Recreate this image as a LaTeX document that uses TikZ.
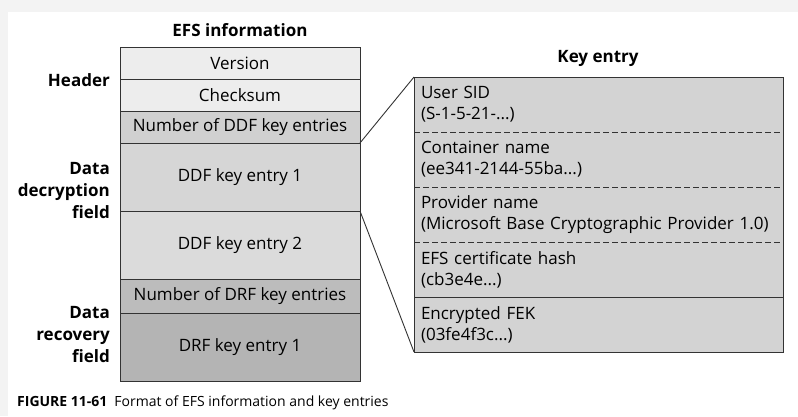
\documentclass[tikz,border=0pt]{standalone}
\usepackage{fontspec}
\setmainfont{Open Sans}
\usetikzlibrary{positioning}
\definecolor{pagegray}{HTML}{F3F3F3}
\definecolor{hdrgray}{HTML}{EDEDED}
\definecolor{numgray}{HTML}{D0D0D0}
\definecolor{ddfgray}{HTML}{D6D6D6}
\definecolor{ddfgraylt}{HTML}{DBDBDB}
\definecolor{drfgray}{HTML}{BCBCBC}
\definecolor{keygray}{HTML}{D3D3D3}
\definecolor{rulegray}{HTML}{333333}
\tikzset{
  efscell/.style={draw=rulegray, line width=1pt, minimum width=240pt,
    inner sep=0pt, outer sep=0pt, font=\fontsize{17}{20}\selectfont},
  keycell/.style={fill=keygray, minimum width=369pt, minimum height=55pt,
    text width=355pt, align=left, inner xsep=7pt, inner ysep=0pt,
    outer sep=0pt, font=\fontsize{17}{21}\selectfont},
  sidelabel/.style={anchor=east, align=right, inner sep=0pt,
    font=\bfseries\fontsize{17}{22}\selectfont},
  title/.style={font=\bfseries\fontsize{17}{20}\selectfont},
  keyrule/.style={rulegray, line width=0.9pt, dash pattern=on 6pt off 3pt}
}
\begin{document}
\begin{tikzpicture}[x=1pt,y=-1pt]
\useasboundingbox (0,0) rectangle (798,416);
\fill[pagegray] (0,0) rectangle (798,416);
\fill[white] (8,12) rectangle (798,416);
% EFS information column
\node[title] (efstitle) at (240,30) {EFS information};
\node[efscell, fill=hdrgray, minimum height=32pt, anchor=north west] (ver) at (120,47) {Version};
\node[efscell, fill=hdrgray, minimum height=32pt, below=0pt of ver] (chk) {Checksum};
\node[efscell, fill=numgray, minimum height=32pt, below=0pt of chk] (nddf) {Number of DDF key entries};
\node[efscell, fill=ddfgray, minimum height=68pt, below=0pt of nddf] (ddf1) {DDF key entry 1};
\node[efscell, fill=ddfgraylt, minimum height=68pt, below=0pt of ddf1] (ddf2) {DDF key entry 2};
\node[efscell, fill=drfgray, minimum height=34pt, below=0pt of ddf2] (ndrf) {Number of DRF key entries};
\node[efscell, fill=drfgray!96!black, minimum height=68pt, below=0pt of ndrf] (drf1) {DRF key entry 1};
% field labels
\node[sidelabel] (hdr) at (110,80) {Header};
\node[sidelabel] (ddfield) at (110,191) {Data\\decryption\\field};
\node[sidelabel] (drfield) at (110,335) {Data\\recovery\\field};
% key entry column
\node[title] (keytitle) at (598,58) {Key entry};
\node[keycell, anchor=north west] (sid) at (414,77) {User SID\\(S-1-5-21-...)};
\node[keycell, below=0pt of sid] (cont) {Container name\\(ee341-2144-55ba...)};
\node[keycell, below=0pt of cont] (prov) {Provider name\\(Microsoft Base Cryptographic Provider 1.0)};
\node[keycell, below=0pt of prov] (hash) {EFS certificate hash\\(cb3e4e...)};
\node[keycell, below=0pt of hash] (fek) {Encrypted FEK\\(03fe4f3c...)};
\draw[rulegray, line width=1pt] (sid.north west) rectangle (fek.south east);
\draw[keyrule] (sid.south west) -- (sid.south east);
\draw[keyrule] (cont.south west) -- (cont.south east);
\draw[keyrule] (prov.south west) -- (prov.south east);
\draw[rulegray, line width=1pt] (hash.south west) -- (hash.south east);
% zoom lines
\draw[rulegray, line width=0.9pt] (nddf.south east) -- (sid.north west);
\draw[rulegray, line width=0.9pt] (ddf1.south east) -- (fek.south west);
% caption
\node[anchor=west, inner sep=0pt, font=\fontsize{14}{16}\selectfont] (caption) at (17,403)
  {{\bfseries FIGURE 11-61}\enspace Format of EFS information and key entries};
\end{tikzpicture}
\end{document}
